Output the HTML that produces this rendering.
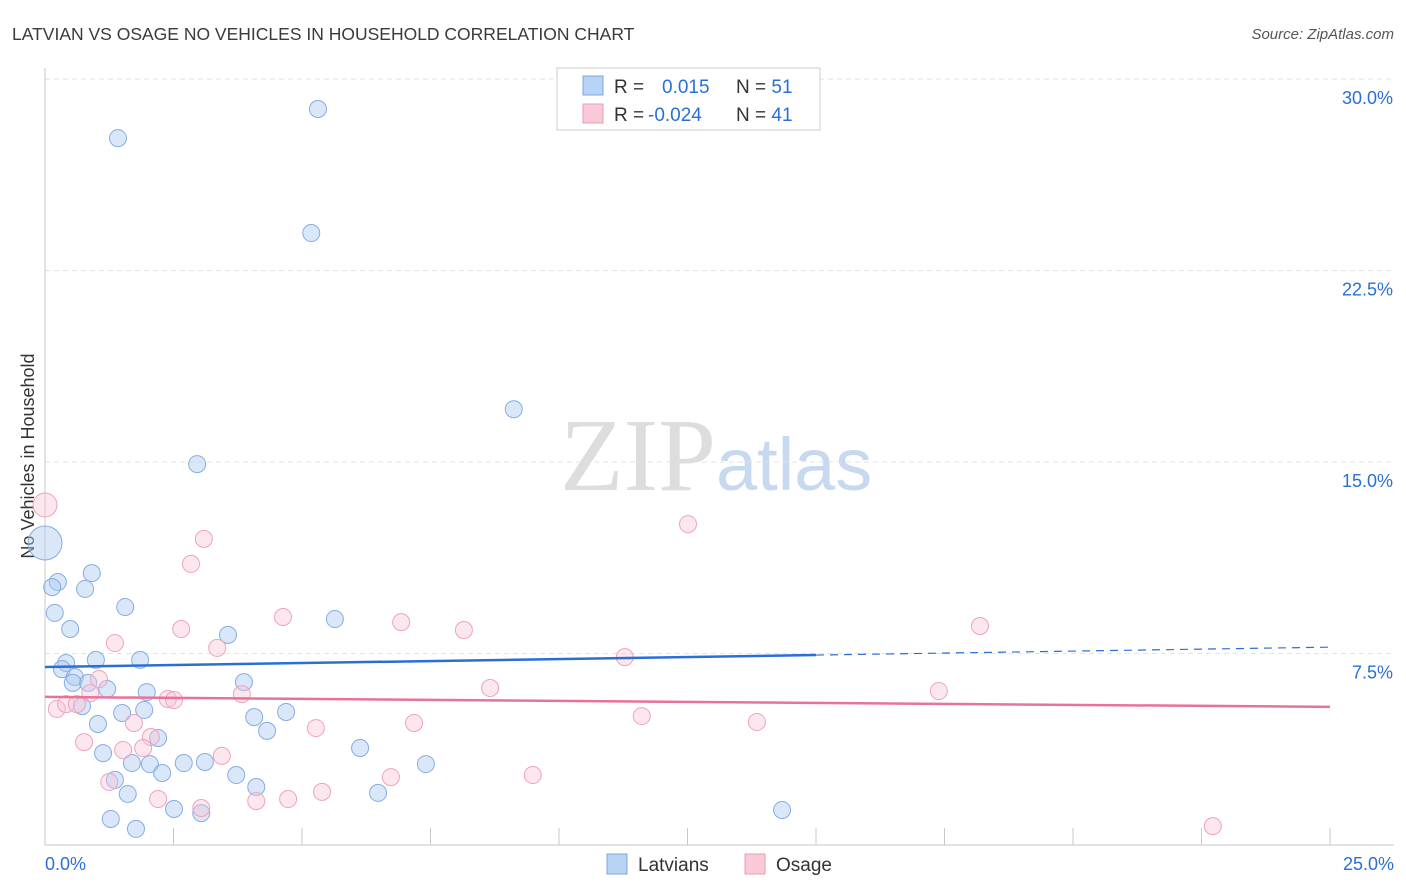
<!DOCTYPE html>
<html><head><meta charset="utf-8"><style>
body{margin:0;background:#fff;font-family:"Liberation Sans",sans-serif;}
svg{display:block}
</style></head><body>
<svg id="chart" width="1406" height="892">
<text x="12" y="40" font-size="17.5" fill="#3a3a3a">LATVIAN VS OSAGE NO VEHICLES IN HOUSEHOLD CORRELATION CHART</text>
<text x="1394" y="39" font-size="15" fill="#555" font-style="italic" text-anchor="end">Source: ZipAtlas.com</text>
<text transform="translate(34,456) rotate(-90)" font-size="18" fill="#333" text-anchor="middle">No Vehicles in Household</text>
<text x="716" y="490" font-size="104" fill="#ddd" text-anchor="end" font-family="Liberation Serif">ZIP</text>
<text x="716" y="490" font-size="74" fill="#c7d9ef">atlas</text>
<g id="grid"></g><g id="axes"></g><g id="pts"></g><g id="trend"></g>
<g>
<rect x="557" y="68" width="263" height="62" fill="#fff" stroke="#ccc"/>
<rect x="583" y="76" width="20" height="19" fill="#b8d3f4" stroke="#7aa7e0"/>
<rect x="583" y="104" width="20" height="19" fill="#f9c9d7" stroke="#ee9ab3"/>
<text x="614" y="93" font-size="19" fill="#333">R = <tspan fill="#2b6fd6" x="662">0.015</tspan><tspan x="736" fill="#333">N = </tspan><tspan fill="#2b6fd6">51</tspan></text>
<text x="614" y="121" font-size="19" fill="#333">R = <tspan fill="#2b6fd6" x="648">-0.024</tspan><tspan x="736" fill="#333">N = </tspan><tspan fill="#2b6fd6">41</tspan></text>
</g>
<g>
<rect x="607" y="854" width="20" height="20" fill="#b8d3f4" stroke="#7aa7e0"/>
<text x="638" y="871" font-size="19" fill="#333">Latvians</text>
<rect x="745" y="854" width="20" height="20" fill="#f9c9d7" stroke="#ee9ab3"/>
<text x="776" y="871" font-size="19" fill="#333">Osage</text>
</g>
</svg>
<script>
const blueX=[1.42,5.31,5.18,9.12,2.96,0,0.25,0.14,0.91,0.78,0.19,1.56,0.49,3.56,5.64,1.85,0.99,0.41,0.33,0.58,0.54,0.84,1.21,1.98,3.87,0.72,1.5,1.93,4.07,4.69,1.03,4.32,2.2,6.13,1.13,1.69,2.04,2.7,3.11,7.41,2.28,3.72,1.36,4.11,1.61,6.48,2.51,3.04,14.34,1.28,1.77];
const blueY=[27.69,28.83,23.97,17.07,14.92,11.83,10.3,10.1,10.65,10.03,9.09,9.32,8.46,8.23,8.85,7.25,7.25,7.13,6.89,6.58,6.35,6.35,6.11,5.99,6.38,5.44,5.17,5.29,5.01,5.21,4.74,4.47,4.19,3.8,3.6,3.21,3.17,3.21,3.25,3.17,2.82,2.74,2.55,2.27,2.0,2.04,1.41,1.25,1.37,1.02,0.63];
const pinkX=[0,3.09,2.84,12.51,4.63,1.36,2.65,6.93,8.15,3.35,18.19,11.28,1.05,3.83,2.39,2.51,8.66,17.39,0.23,0.41,0.62,0.88,1.73,5.27,7.18,11.61,13.85,0.76,2.06,1.52,1.91,3.44,1.25,6.73,9.49,2.2,3.04,4.11,4.73,5.39,22.72];
const pinkY=[13.32,11.99,11.01,12.57,8.93,7.91,8.46,8.73,8.42,7.72,8.58,7.36,6.5,5.91,5.72,5.68,6.15,6.03,5.33,5.52,5.52,5.95,4.78,4.58,4.78,5.05,4.82,4.03,4.23,3.72,3.8,3.49,2.47,2.66,2.74,1.8,1.45,1.72,1.8,2.08,0.74];
const blueTrend=[6.97,7.44,7.75];
const pinkTrend=[5.8,5.41];
const yTicks=[7.5,15,22.5,30];
const ns="http://www.w3.org/2000/svg";
const X=v=>45+v*51.4, Y=v=>845-v*25.53;
function mk(t,a,p){const e=document.createElementNS(ns,t);for(const k in a)e.setAttribute(k,a[k]);p.appendChild(e);return e;}
const grid=document.getElementById('grid'),axes=document.getElementById('axes'),pts=document.getElementById('pts'),tr=document.getElementById('trend');
yTicks.forEach(t=>{const l=mk('line',{x1:45,x2:1394,y1:Y(t),y2:Y(t),stroke:'#e3e3e3','stroke-dasharray':'5,4'},grid);


const tx=mk('text',{x:1393,y:Y(t)+25,'font-size':18,fill:'#2b6fd6','text-anchor':'end'},grid);tx.textContent=t.toFixed(1)+'%';

});
mk('line',{x1:45,x2:45,y1:68,y2:845,stroke:'#c8c8c8'},axes);
mk('line',{x1:45,x2:1394,y1:845,y2:845,stroke:'#c8c8c8'},axes);
for(let i=1;i<=10;i++){mk('line',{x1:X(i*2.5),x2:X(i*2.5),y1:828,y2:845,stroke:'#c8c8c8'},axes);}
let t0=mk('text',{x:45,y:870,'font-size':18,fill:'#2b6fd6'},axes);t0.textContent='0.0%';


let t1=mk('text',{x:1394,y:870,'font-size':18,fill:'#2b6fd6','text-anchor':'end'},axes);t1.textContent='25.0%';


blueX.forEach((x,i)=>{const c=mk('circle',{cx:X(x),cy:Y(blueY[i]),r:(x===0?17:8.5),fill:'rgba(170,202,242,0.45)',stroke:'#85ade3','stroke-width':1},pts);

});
pinkX.forEach((x,i)=>{const c=mk('circle',{cx:X(x),cy:Y(pinkY[i]),r:(x===0?12:8.5),fill:'rgba(248,195,212,0.4)',stroke:'#efa3ba','stroke-width':1},pts);

});
let b1=mk('line',{x1:X(0),y1:Y(blueTrend[0]),x2:X(15),y2:Y(blueTrend[1]),stroke:'#2b6fd6','stroke-width':2.5},tr);


let b2=mk('line',{x1:X(15),y1:Y(blueTrend[1]),x2:X(25),y2:Y(blueTrend[2]),stroke:'#2b6fd6','stroke-width':1.2,'stroke-dasharray':'8,6'},tr);


let p1=mk('line',{x1:X(0),y1:Y(pinkTrend[0]),x2:X(25),y2:Y(pinkTrend[1]),stroke:'#e8739a','stroke-width':2.5},tr);


</script>
</body></html>
